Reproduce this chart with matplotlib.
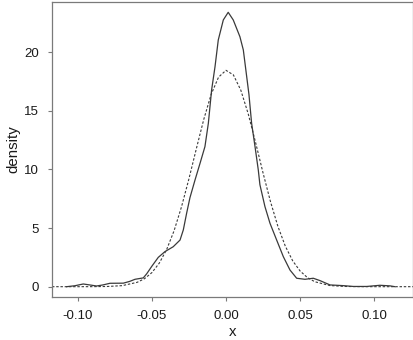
import matplotlib
matplotlib.use("Agg")
import matplotlib.pyplot as plt

kde_x = [-0.1075, -0.102, -0.0963, -0.092, -0.0873, -0.083, -0.0783, -0.0693,
         -0.065, -0.0614, -0.0558, -0.0535, -0.0500, -0.0457, -0.0412, -0.0356,
         -0.031, -0.0288, -0.0265, -0.0243, -0.0209, -0.0175, -0.0142, -0.0119,
         -0.0097, -0.0074, -0.0052, -0.0018, 0.0015, 0.0049, 0.0094, 0.0117,
         0.014, 0.0155, 0.0173, 0.0196, 0.0218, 0.0229, 0.0263, 0.0297, 0.0342,
         0.0387, 0.0432, 0.0477, 0.0533, 0.0589, 0.0634, 0.0702, 0.0791, 0.0859,
         0.095, 0.1039, 0.1107, 0.114]
kde_y = [0.0, 0.08, 0.23, 0.15, 0.06, 0.15, 0.29, 0.30,
         0.45, 0.63, 0.75, 1.1, 1.75, 2.5, 2.99, 3.41,
         3.98, 4.84, 6.3, 7.6, 9.1, 10.53, 11.95, 13.94,
         16.78, 18.77, 21.05, 22.76, 23.41, 22.76, 21.33, 20.2,
         17.9, 16.4, 13.94, 11.95, 9.96, 8.7, 6.83, 5.41, 3.98,
         2.56, 1.42, 0.72, 0.63, 0.72, 0.52, 0.15, 0.09, 0.02,
         0.02, 0.12, 0.07, 0.0]

# Normal reference density (dashed line)
norm_x = [-0.1174, -0.10, -0.09, -0.08, -0.07, -0.06, -0.055, -0.05, -0.045,
          -0.04, -0.035, -0.03, -0.025, -0.02, -0.015, -0.01, -0.005, 0.0,
          0.005, 0.01, 0.015, 0.02, 0.025, 0.03, 0.035, 0.04, 0.045, 0.05,
          0.055, 0.06, 0.07, 0.08, 0.09, 0.10, 0.1262]
norm_y = [0.0, 0.0, 0.003, 0.018, 0.09, 0.37, 0.68, 1.20, 2.01,
          3.18, 4.78, 6.82, 9.20, 11.77, 14.27, 16.41, 17.88, 18.46,
          18.07, 16.77, 14.75, 12.29, 9.71, 7.27, 5.16, 3.47, 2.21, 1.34,
          0.77, 0.42, 0.10, 0.02, 0.004, 0.0, 0.0]

x_ticks = [-0.10, -0.05, 0.00, 0.05, 0.10]
x_tick_labels = ["-0.10", "-0.05", "0.00", "0.05", "0.10"]
y_ticks = [0, 5, 10, 15, 20]
y_tick_labels = ["0", "5", "10", "15", "20"]

plt.rcParams['font.family'] = ['Liberation Sans', 'DejaVu Sans']

fig = plt.figure(figsize=(4.14, 3.40), dpi=100)
ax = fig.add_axes([52/414, 1 - 297/340, (413 - 52)/414, (297 - 2)/340])

line_col = '#3a3a3a'
ax.plot(kde_x, kde_y, color=line_col, lw=0.9, solid_joinstyle='round')
ax.plot(norm_x, norm_y, color=line_col, lw=0.8, dashes=(2.2, 1.6))

ax.set_xlim(-0.1174, 0.1262)
ax.set_ylim(-0.88, 24.29)

ax.set_xticks(x_ticks)
ax.set_xticklabels(x_tick_labels)
ax.set_yticks(y_ticks)
ax.set_yticklabels(y_tick_labels)

frame_col = '#7a7a7a'
for s in ax.spines.values():
    s.set_color(frame_col)
    s.set_linewidth(0.9)
ax.tick_params(direction='out', length=3.2, width=0.8, color=frame_col,
               labelsize=9.5, labelcolor='#1a1a1a', pad=6)
ax.tick_params(axis='x', pad=6.5)

ax.set_xlabel('x', fontsize=10.8, color='#1a1a1a', labelpad=2)
ax.set_ylabel('density', fontsize=10.8, color='#1a1a1a', labelpad=3)

fig.savefig('out.png', dpi=100)
